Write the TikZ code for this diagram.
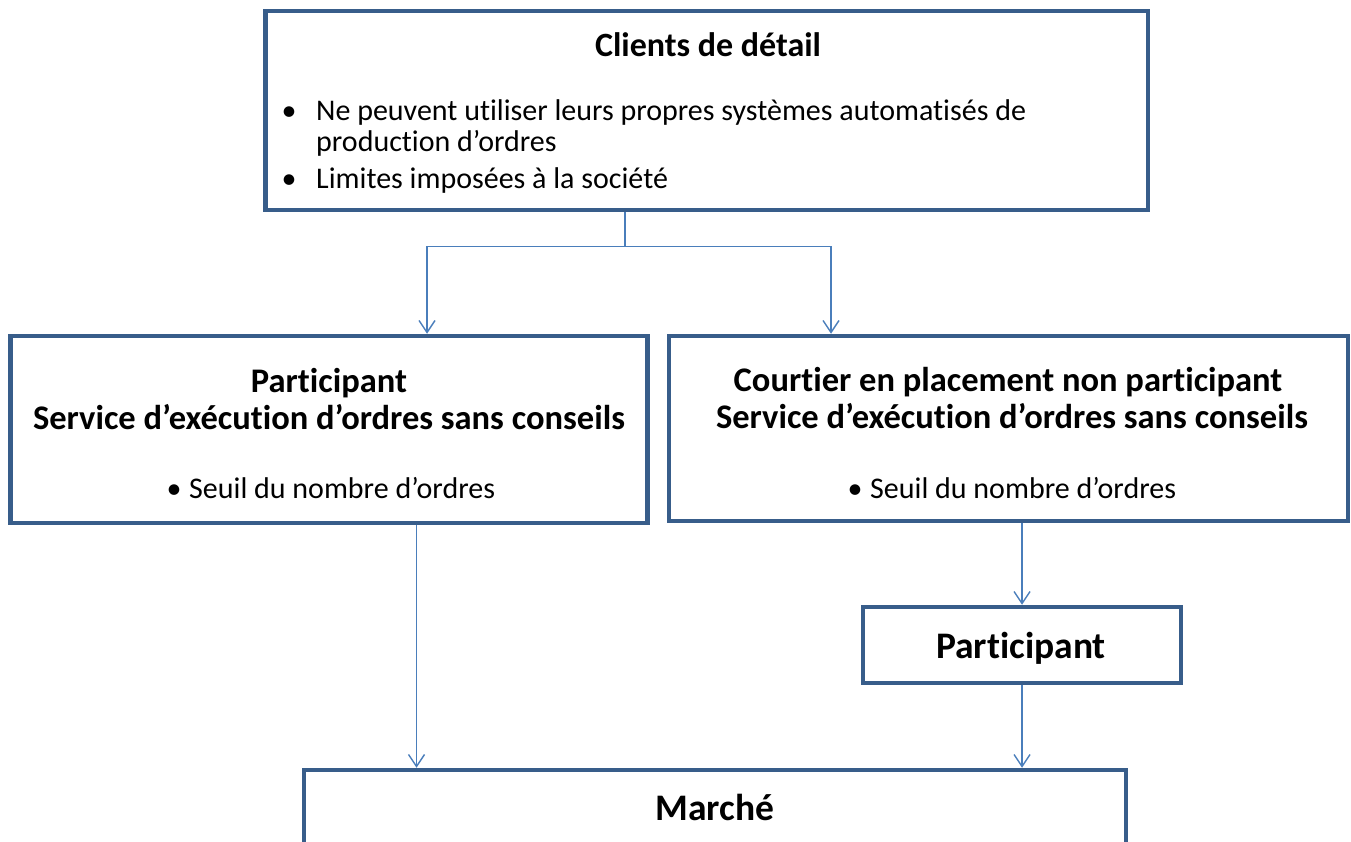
\documentclass[tikz,border=0pt]{standalone}
\usepackage{fontspec}
\setmainfont{Carlito}[Ligatures={TeX,NoCommon}]
\usetikzlibrary{arrows.meta}
\definecolor{boxline}{HTML}{385D8A}
\definecolor{linkline}{HTML}{4A7EBB}
\tikzset{
  box/.style={draw=boxline, line width=4.5pt, inner sep=0pt, fill=white},
  wire/.style={draw=linkline, line width=1.4pt},
  link/.style={wire, -{Straight Barb[length=12pt,width=16pt,line width=1.4pt]}},
  head/.style={anchor=base, inner sep=0pt, font=\bfseries\fontsize{34.5}{40}\selectfont},
  bighead/.style={anchor=base, inner sep=0pt, font=\bfseries\fontsize{37.5}{44}\selectfont},
  item/.style={anchor=base west, inner sep=0pt, font=\fontsize{30}{36}\selectfont},
  dot/.style={anchor=base, inner sep=0pt, font=\fontsize{30}{36}\selectfont},
}
\begin{document}
\begin{tikzpicture}[x=1pt,y=-1pt]
\useasboundingbox (0,0) rectangle (1351,842);
\clip (0,0) rectangle (1351,842);

% boxes
\node[box, minimum width=882.5pt, minimum height=199pt] (clients) at (706.75,110.5) {};
\node[box, minimum width=637pt, minimum height=187pt] (partL) at (329,429.5) {};
\node[box, minimum width=679pt, minimum height=185pt] (dealer) at (1008.5,428.5) {};
\node[box, minimum width=318pt, minimum height=76pt] (part) at (1022,645) {};
\node[box, minimum width=822pt, minimum height=90pt] (market) at (715,815) {};

% top box text
\node[head, font=\bfseries\fontsize{34}{40}\selectfont] (t1) at (708,57) {Clients de détail};
\node[dot] (b1) at (289,121) {•};
\node[item] (l1) at (316,121) {Ne peuvent utiliser leurs propres systèmes automatisés de};
\node[item] (l2) at (316,152) {production d’ordres};
\node[dot] (b2) at (289,189) {•};
\node[item] (l3) at (316,189) {Limites imposées à la société};

% left box text
\node[head] (p1) at (329,392) {Participant};
\node[head] (p2) at (329,429) {Service d’exécution d’ordres sans conseils};
\node[dot] (b3) at (174,498) {•};
\node[item] (p3) at (189,498) {Seuil du nombre d’ordres};

% right box text
\node[head] (d1) at (1008,391) {Courtier en placement non participant};
\node[head] (d2) at (1012,428) {Service d’exécution d’ordres sans conseils};
\node[dot] (b4) at (855,498) {•};
\node[item] (d3) at (870,498) {Seuil du nombre d’ordres};

% lower boxes text
\node[bighead] (pt) at (1021,658) {Participant};
\node[bighead] (mt) at (715,820) {Marché};

% connectors
\coordinate (split) at (625,246.5);
\coordinate (xl) at (427,0);
\coordinate (xr) at (831,0);
\coordinate (xd) at (416.5,0);
\draw[wire] (split |- clients.south) -- (split);
\draw[link] (split) -| (xl |- partL.north);
\draw[link] (split) -| (xr |- dealer.north);
\draw[link] (xd |- partL.south) -- (xd |- market.north);
\draw[link] (part.north |- dealer.south) -- (part.north);
\draw[link] (part.south) -- (part.south |- market.north);
\end{tikzpicture}
\end{document}
